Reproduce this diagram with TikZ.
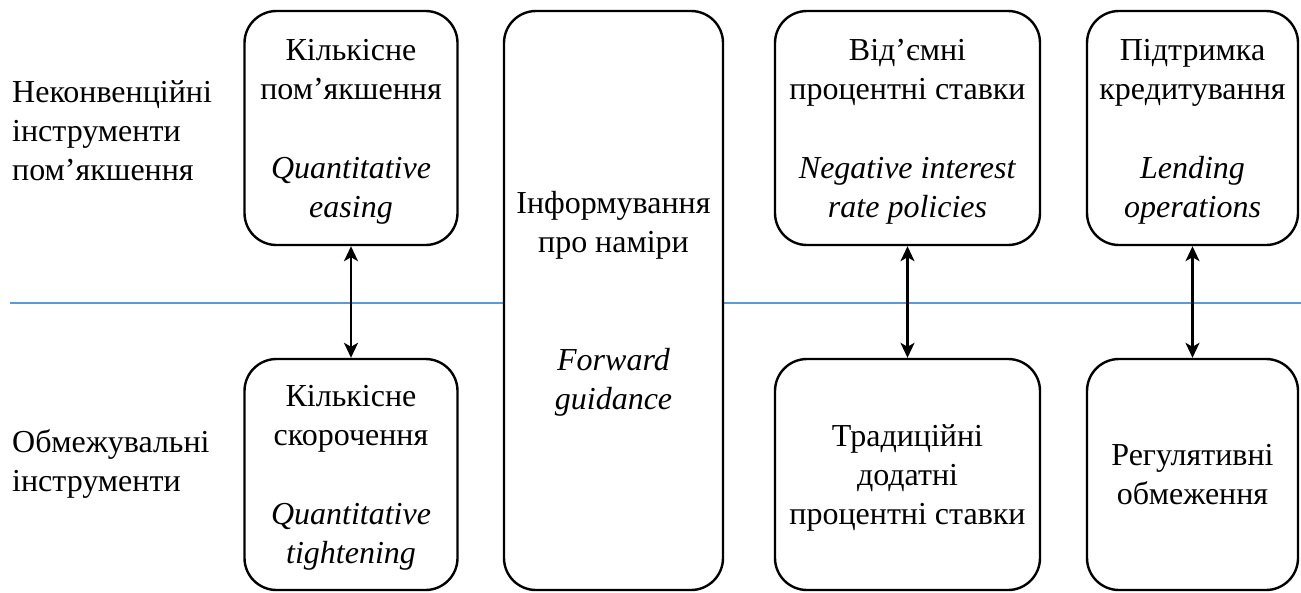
\documentclass[tikz,border=0pt]{standalone}
\usepackage{fontspec}
\setmainfont{Liberation Serif}
\usetikzlibrary{arrows.meta}
\definecolor{sepblue}{RGB}{91,155,213}
\newcommand{\ls}{\rule[-8pt]{0pt}{37pt}}
\begin{document}
\begin{tikzpicture}[x=1pt,y=-1pt,
  txt/.style={font=\fontsize{32}{39}\selectfont},
  box/.style={txt, draw, line width=2.4pt, rounded corners=32pt, fill=white, align=center, inner sep=0pt},
  lbl/.style={txt, align=left, inner sep=0pt, anchor=north west},
  link/.style={line width=2.2pt, {Stealth[length=15pt,width=14pt,inset=4pt]}-{Stealth[length=15pt,width=14pt,inset=4pt]}}]
\useasboundingbox (0,0) rectangle (1301,592);
\coordinate (l0) at (10,303);
\coordinate (l1) at (1301,303);
\draw[sepblue, line width=1.2pt] (l0) -- (l1);

\node[lbl] (unc) at (12,73) {\ls Неконвенційні\\інструменти\\пом’якшення};
\node[lbl] (restr) at (12,423) {\ls Обмежувальні\\інструменти};

\node[box, minimum width=213pt, minimum height=234pt] (qe) at (351,128)
  {\ls Кількісне\\пом’якшення\\[40pt]\textit{Quantitative}\\\textit{easing}\ls};
\node[box, minimum width=219pt, minimum height=579pt] (fg) at (613.5,300.5)
  {\ls Інформування\\про наміри\\[79pt]\textit{Forward}\\\textit{guidance}\ls};
\node[box, minimum width=265pt, minimum height=234pt] (nir) at (907.5,128)
  {\ls Від’ємні\\процентні ставки\\[40pt]\textit{Negative interest}\\\textit{rate policies}\ls};
\node[box, minimum width=211pt, minimum height=234pt] (lend) at (1192.5,128)
  {\ls Підтримка\\кредитування\\[40pt]\textit{Lending}\\\textit{operations}\ls};

\node[box, minimum width=213pt, minimum height=231pt] (qt) at (351,474.5)
  {\ls Кількісне\\скорочення\\[40pt]\textit{Quantitative}\\\textit{tightening}\ls};
\node[box, minimum width=265pt, minimum height=231pt] (trad) at (907.5,474.5)
  {\ls Традиційні\\додатні\\процентні ставки\ls};
\node[box, minimum width=211pt, minimum height=231pt] (reg) at (1192.5,474.5)
  {\ls Регулятивні\\обмеження\ls};

\draw[link] (qe.south) -- (qt.north);
\draw[link] (nir.south) -- (trad.north);
\draw[link] (lend.south) -- (reg.north);
\end{tikzpicture}
\end{document}
